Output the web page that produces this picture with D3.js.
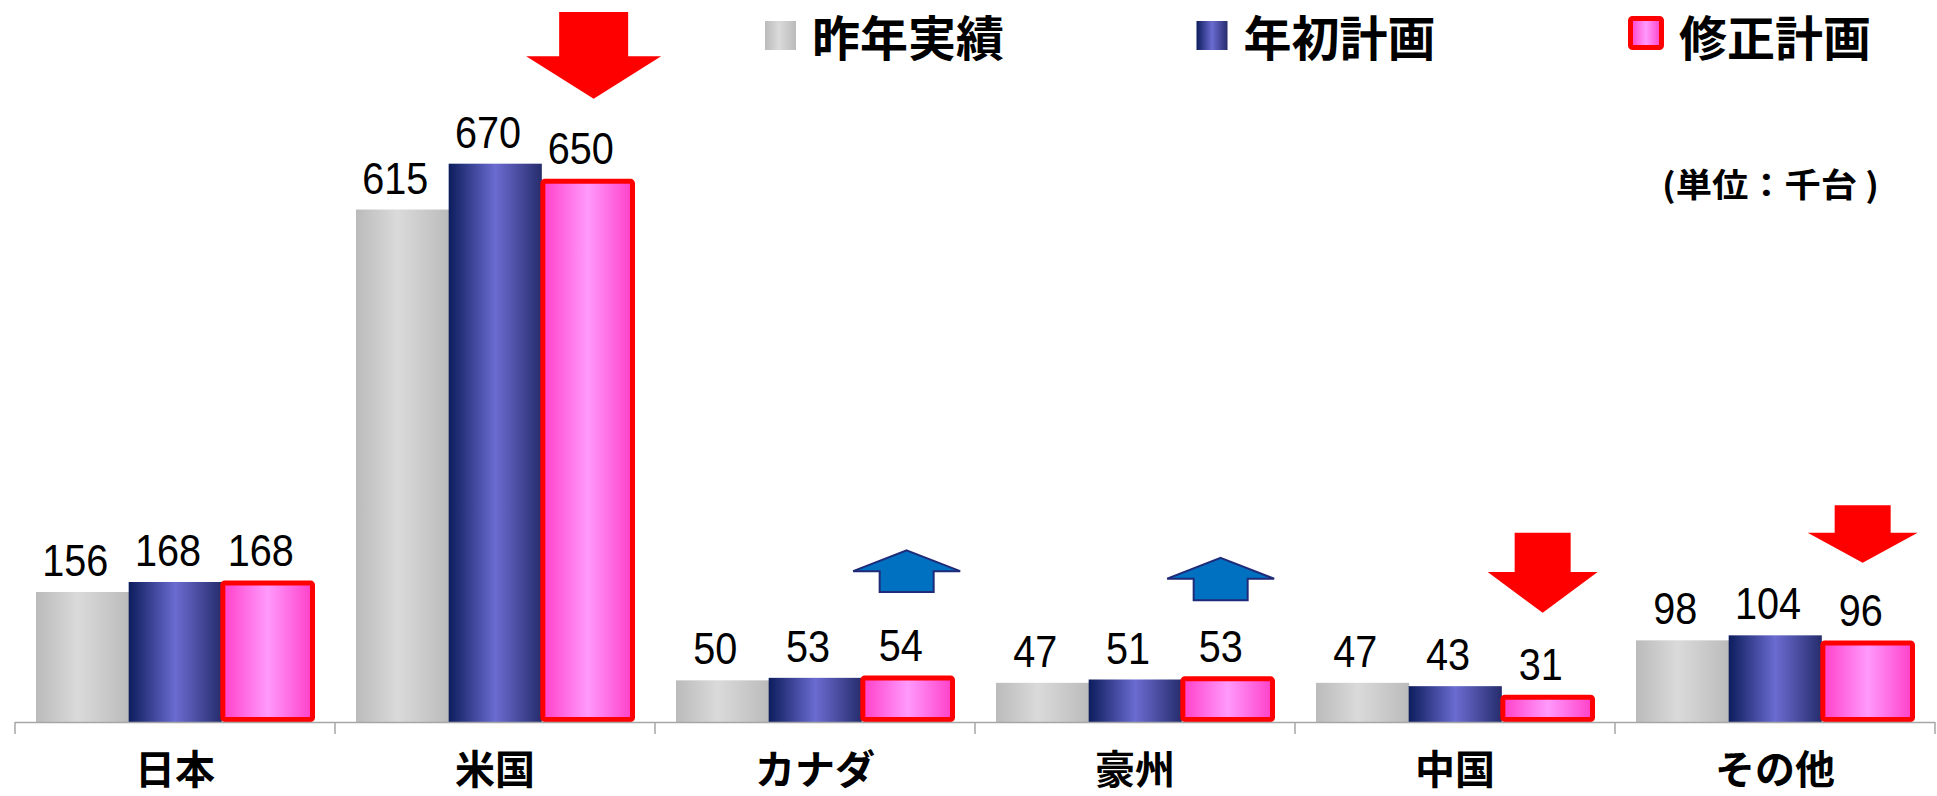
<!DOCTYPE html>
<html>
<head>
<meta charset="utf-8">
<script src="https://cdn.jsdelivr.net/npm/d3@7"></script>
<style>
  html, body { margin: 0; padding: 0; background: #fff; overflow: hidden; }
  svg { display: block; }
</style>
</head>
<body>
<svg id="chart" width="1937" height="796"></svg>
<script>
// ---- data ----
const categories = ["日本", "米国", "カナダ", "豪州", "中国", "その他"];
const seriesNames = ["昨年実績", "年初計画", "修正計画"];
const lastYearActual = [156, 615, 50, 47, 47, 98];
const initialPlan = [168, 670, 53, 51, 43, 104];
const revisedPlan = [168, 650, 54, 53, 31, 96];
const unitLabel = "(単位：千台 )";
// change arrows (annotation): category, direction, extents in value units
const arrowCats = ["米国", "カナダ", "豪州", "中国", "その他"];
const arrowDirs = ["down", "up", "up", "down", "down"];
const arrowTop = [852, 206, 197, 227, 260];
const arrowMid = [799, 181, 172, 180, 227];
const arrowEnd = [748, 156, 146, 131, 191];

const seriesValues = [lastYearActual, initialPlan, revisedPlan];

// ---- layout ----
const svg = d3.select("#chart");
const baseY = 722;
const x = d3.scaleBand().domain(categories).range([15, 1935]).padding(0);
const bw = x.bandwidth();
const groupPad = 21;
const xs = d3.scaleBand().domain(seriesNames).range([groupPad, bw - groupPad]).padding(0);
const barW = xs.bandwidth();
const y = d3.scaleLinear().domain([0, 800]).range([baseY, baseY - 800 * 0.8333]);

// ---- gradients ----
const defs = svg.append("defs");
function grad(id, stops) {
  const g = defs.append("linearGradient").attr("id", id)
    .attr("x1", "0").attr("x2", "1").attr("y1", "0").attr("y2", "0");
  stops.forEach(s => g.append("stop").attr("offset", s[0]).attr("stop-color", s[1]));
}
grad("gGrey", [[0, "#BBBBBB"], [0.45, "#DADADA"], [1, "#BBBBBB"]]);
grad("gBlue", [[0, "#0C1D5C"], [0.5, "#6B6BD1"], [1, "#262D6C"]]);
grad("gPink", [[0, "#FF3FC8"], [0.5, "#FF99FC"], [1, "#FF3FC8"]]);
const fills = ["url(#gGrey)", "url(#gBlue)", "url(#gPink)"];

// ---- bars ----
const rows = [];
seriesNames.forEach((s, si) => {
  categories.forEach((c, ci) => {
    rows.push({ s, si, c, v: seriesValues[si][ci] });
  });
});

const barG = svg.append("g");
barG.selectAll("rect.bar").data(rows).enter().append("rect")
  .attr("class", "bar")
  .attr("x", d => x(d.c) + xs(d.s) + (d.si === 2 ? 1.5 : 0))
  .attr("y", d => y(d.v) + (d.si === 2 ? 1 : 0))
  .attr("width", d => barW + (d.si === 2 ? -3 : 0.5))
  .attr("height", d => baseY - y(d.v) - (d.si === 2 ? 3.5 : 0))
  .attr("rx", d => d.si === 2 ? 2 : 0)
  .attr("fill", d => fills[d.si])
  .attr("stroke", d => d.si === 2 ? "#FF0000" : "none")
  .attr("stroke-width", 5);

// ---- axis ----
const axisG = svg.append("g");
axisG.append("line")
  .attr("x1", x.range()[0]).attr("x2", x.range()[1])
  .attr("y1", baseY + 0.5).attr("y2", baseY + 0.5)
  .attr("stroke", "#A6A6A6").attr("stroke-width", 1.5);
const tickXs = categories.map(c => x(c)).concat([x.range()[1]]);
axisG.selectAll("line.tick").data(tickXs).enter().append("line")
  .attr("class", "tick")
  .attr("x1", d => d).attr("x2", d => d)
  .attr("y1", baseY).attr("y2", baseY + 12)
  .attr("stroke", "#A6A6A6").attr("stroke-width", 1.5);

// category labels
svg.append("g").selectAll("text").data(categories).enter().append("text")
  .attr("x", d => x(d) + bw / 2)
  .attr("y", 784)
  .attr("text-anchor", "middle")
  .attr("font-family", "'Noto Sans CJK JP', sans-serif")
  .attr("font-weight", "bold")
  .attr("font-size", 40)
  .attr("fill", "#000")
  .text(d => d);

// value labels (slightly condensed)
svg.append("g").selectAll("text").data(rows).enter().append("text")
  .attr("transform", d => `translate(${x(d.c) + xs(d.s) + barW / 2 - 7},${y(d.v) - 16}) scale(0.88,1)`)
  .attr("text-anchor", "middle")
  .attr("font-family", "'Liberation Sans', Arial, sans-serif")
  .attr("font-size", 45)
  .attr("fill", "#000")
  .text(d => d.v);

// ---- arrows ----
const arrows = arrowCats.map((c, i) => ({ c, dir: arrowDirs[i], a: arrowTop[i], m: arrowMid[i], e: arrowEnd[i] }));
const arrowG = svg.append("g");
arrows.forEach(ar => {
  const pinkC = x(ar.c) + xs("修正計画") + barW / 2;
  let pts, fill, stroke, sw;
  if (ar.dir === "down") {
    const big = ar.c === "米国";
    const cx = pinkC + (big ? 6 : -5);
    const sh = big ? 34.5 : 28;
    const hh = big ? 67.5 : 55;
    const yt = y(ar.a), ym = y(ar.m), ye = y(ar.e);
    pts = [[cx - sh, yt], [cx + sh, yt], [cx + sh, ym], [cx + hh, ym], [cx, ye], [cx - hh, ym], [cx - sh, ym]];
    fill = "#FF0000"; stroke = "none"; sw = 0;
  } else {
    const cx = pinkC + (ar.c === "豪州" ? -7 : -1);
    const sh = 27, hh = 53.5;
    const yt = y(ar.a), ym = y(ar.m), ye = y(ar.e);
    pts = [[cx, yt], [cx + hh, ym], [cx + sh, ym], [cx + sh, ye], [cx - sh, ye], [cx - sh, ym], [cx - hh, ym]];
    fill = "#0070C0"; stroke = "#1F2A78"; sw = 2;
  }
  arrowG.append("polygon")
    .attr("points", pts.map(p => p.join(",")).join(" "))
    .attr("fill", fill).attr("stroke", stroke).attr("stroke-width", sw)
    .attr("stroke-linejoin", "miter");
});

// ---- legend ----
const legG = svg.append("g");
seriesNames.forEach((s, i) => {
  const lx = 765 + i * 431.5;
  if (i === 2) {
    legG.append("rect").attr("x", lx + 2.5).attr("y", 18.5).attr("width", 31).attr("height", 29)
      .attr("rx", 2).attr("fill", fills[i]).attr("stroke", "#FF0000").attr("stroke-width", 5);
  } else {
    legG.append("rect").attr("x", lx).attr("y", 21).attr("width", 31).attr("height", 29)
      .attr("fill", fills[i]);
  }
  legG.append("text")
    .attr("x", lx + 47 + (i === 2 ? 4 : 0))
    .attr("y", 56)
    .attr("font-family", "'Noto Sans CJK JP', sans-serif")
    .attr("font-weight", "bold")
    .attr("font-size", 48)
    .attr("fill", "#000")
    .text(s);
});

// unit label (slightly widened)
svg.append("text")
  .attr("transform", "translate(1879,197) scale(1.1,1)")
  .attr("text-anchor", "end")
  .attr("font-family", "'Noto Sans CJK JP', sans-serif")
  .attr("font-weight", "bold")
  .attr("font-size", 33)
  .attr("fill", "#000")
  .text(unitLabel);
</script>
</body>
</html>
